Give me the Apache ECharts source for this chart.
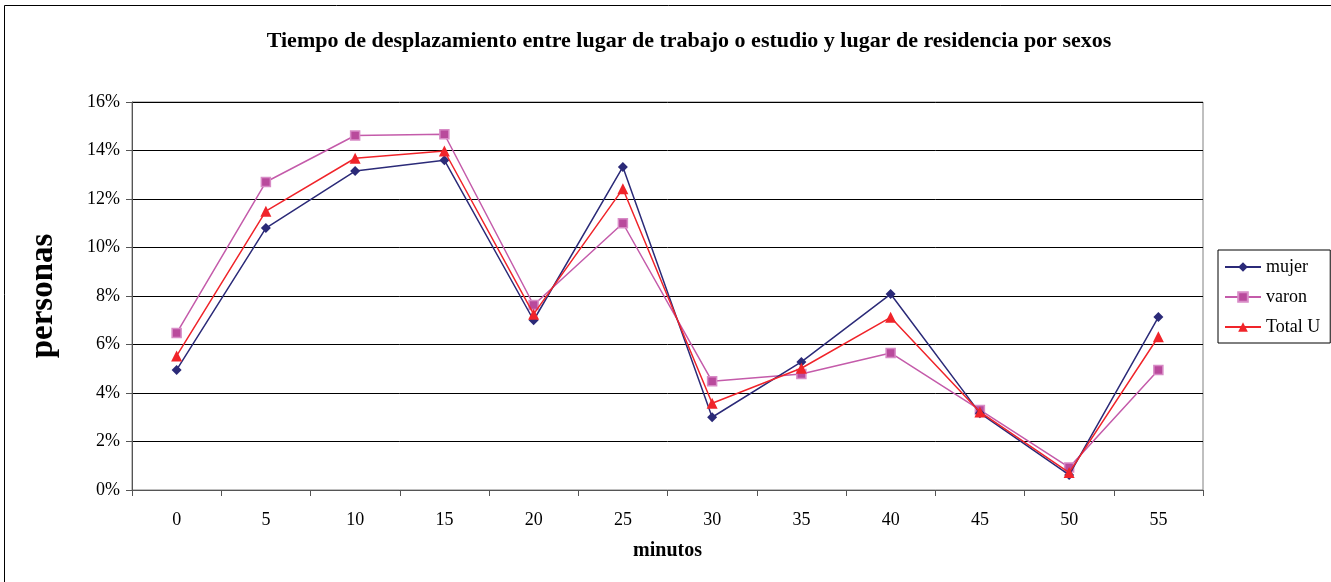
<!DOCTYPE html>
<html><head><meta charset="utf-8">
<script src="https://cdn.jsdelivr.net/npm/echarts@6/dist/echarts.min.js"></script>
<style>html,body{margin:0;padding:0;background:#fff;}#c{width:1331px;height:582px;}</style>
</head><body><div id="c"></div>
<script>
var categories = ['0','5','10','15','20','25','30','35','40','45','50','55'];
var mujer = [4.95,10.8,13.15,13.6,7.0,13.32,3.0,5.28,8.08,3.17,0.62,7.13];
var varon = [6.47,12.7,14.62,14.67,7.63,11.0,4.48,4.78,5.65,3.3,0.93,4.95];
var totalU = [5.53,11.5,13.68,13.98,7.25,12.42,3.58,5.02,7.12,3.22,0.72,6.32];
var yTicks = [0,2,4,6,8,10,12,14,16];

var serif = '"Liberation Serif","DejaVu Serif",serif';
var chart = echarts.init(document.getElementById('c'));
chart.setOption({
  animation:false,
  backgroundColor:'#fff',
  title:{text:'Tiempo de desplazamiento entre lugar de trabajo o estudio y lugar de residencia por sexos',
    left:684,top:25,textAlign:'center',
    textStyle:{fontFamily:serif,fontWeight:'bold',fontSize:22,color:'#000'}},
  graphic:[{type:'rect',shape:{x:4.5,y:5.5,width:1400,height:700},style:{fill:'none',stroke:'#000',lineWidth:1},z:-1}],
  legend:{
    left:1218,top:250,orient:'vertical',itemGap:12,itemWidth:36,itemHeight:12,
    borderColor:'#000',borderWidth:1,padding:[8,10,7,6],
    textStyle:{fontFamily:serif,fontSize:18,color:'#000'},
    data:['mujer','varon','Total U']
  },
  grid:{left:132,top:102,width:1071,height:388,show:true,borderColor:'#808080',borderWidth:1},
  xAxis:{type:'category',data:categories,boundaryGap:true,
    name:'minutos',nameLocation:'middle',nameGap:51,
    nameTextStyle:{fontFamily:serif,fontWeight:'bold',fontSize:20,color:'#000'},
    axisLine:{lineStyle:{color:'#555',width:1}},
    axisTick:{show:true,length:6,lineStyle:{color:'#555'}},
    axisLabel:{fontFamily:serif,fontSize:18,color:'#000',margin:21}},
  yAxis:{type:'value',min:0,max:16,interval:2,
    name:'personas',nameLocation:'middle',nameGap:72,
    nameTextStyle:{fontFamily:serif,fontWeight:'bold',fontSize:33,color:'#000'},
    axisLine:{show:true,lineStyle:{color:'#555',width:1}},
    axisTick:{show:true,length:6,lineStyle:{color:'#555'}},
    axisLabel:{fontFamily:serif,fontSize:18,color:'#000',margin:12,
      formatter:function(v){return yTicks.indexOf(v)>=0? v+'%':'';}},
    splitLine:{show:true,lineStyle:{color:'#000',width:1}}},
  series:[
    {name:'mujer',type:'line',data:mujer,symbol:'diamond',symbolSize:10,
     lineStyle:{color:'#2B2A78',width:1.5},itemStyle:{color:'#2B2A78'},z:3},
    {name:'varon',type:'line',data:varon,symbol:'rect',symbolSize:9,
     lineStyle:{color:'#C45BAA',width:1.5},itemStyle:{color:'#B94A9C',borderColor:'#D88BC6',borderWidth:1.5},z:2},
    {name:'Total U',type:'line',data:totalU,symbol:'triangle',symbolSize:11,
     lineStyle:{color:'#F0242A',width:1.5},itemStyle:{color:'#F0242A'},z:4}
  ]
});
</script></body></html>
